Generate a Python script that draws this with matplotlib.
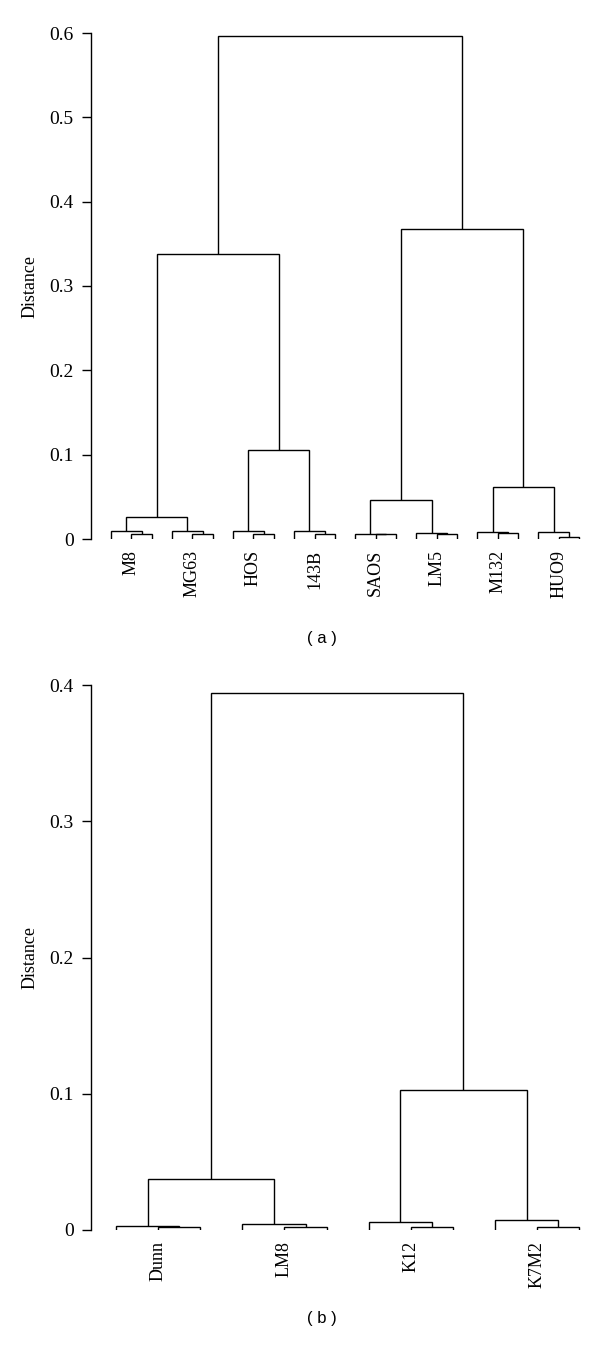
import matplotlib
matplotlib.use("Agg")
import matplotlib.pyplot as plt

plt.rcParams['font.family'] = ['Liberation Serif', 'DejaVu Serif']

# ---------------- data: panel (a) ----------------
# each labelled group holds 3 leaves: A + (B, C)
groups_a = ["M8", "MG63", "HOS", "143B", "SAOS", "LM5", "M132", "HUO9"]
inner_a = [0.0056, 0.0058, 0.0056, 0.0060, 0.0054, 0.0056, 0.0068, 0.0027]
outer_a = [0.0091, 0.0091, 0.0091, 0.0091, 0.0056, 0.0068, 0.0079, 0.0079]
# merges above the groups: node ids 0..7 are groups, new nodes count on from 8
upper_pairs_a = [(0, 1), (2, 3), (4, 5), (6, 7), (8, 9), (10, 11), (12, 13)]
upper_heights_a = [0.0265, 0.106, 0.046, 0.062, 0.338, 0.367, 0.596]
yticks_a = [0, 0.1, 0.2, 0.3, 0.4, 0.5, 0.6]

# ---------------- data: panel (b) ----------------
groups_b = ["Dunn", "LM8", "K12", "K7M2"]
inner_b = [0.0024, 0.0020, 0.0024, 0.0024]
outer_b = [0.0032, 0.0044, 0.0057, 0.0073]
upper_pairs_b = [(0, 1), (2, 3), (4, 5)]
upper_heights_b = [0.0374, 0.1028, 0.394]
yticks_b = [0, 0.1, 0.2, 0.3, 0.4]


def link(ax, x1, h1, x2, h2, top):
    ax.plot([x1, x1, x2, x2], [h1, top, top, h2], color="black", lw=1.0,
            solid_joinstyle="miter", solid_capstyle="butt")


def draw_dendrogram(ax, groups, inner, outer, pairs, heights):
    nodes = []  # (x centre, height) per node
    for g in range(len(groups)):
        a, b, c = 3 * g, 3 * g + 1, 3 * g + 2
        link(ax, b, 0, c, 0, inner[g])
        bc = (b + c) / 2
        link(ax, a, 0, bc, inner[g], outer[g])
        nodes.append(((a + bc) / 2, outer[g]))
    for (i, j), h in zip(pairs, heights):
        xi, hi = nodes[i]
        xj, hj = nodes[j]
        link(ax, xi, hi, xj, hj, h)
        nodes.append(((xi + xj) / 2, h))
    ax.set_xticks([3 * g + 1 for g in range(len(groups))])
    ax.set_xticklabels(groups, rotation=90, fontsize=13)


def style(ax, yticks, ymax):
    for s in ["top", "right", "bottom"]:
        ax.spines[s].set_visible(False)
    ax.spines["left"].set_bounds(0, ymax)
    ax.spines["left"].set_linewidth(1.0)
    ax.set_ylim(0, ymax)
    ax.set_yticks(yticks)
    ax.set_yticklabels([("%g" % t) for t in yticks], fontsize=14)
    ax.tick_params(axis="y", direction="out", length=6.5, width=1.0, pad=6)
    ax.tick_params(axis="x", length=0, pad=8)
    ax.set_ylabel("Distance", fontsize=13, labelpad=8)


fig = plt.figure(figsize=(6.0, 13.47), dpi=100)
H = 1347.0

# panel (a): spine at x=91px, leaf0 at 111px, spacing 20.35px
ax1 = fig.add_axes([91 / 600, (H - 539) / H, 499 / 600, 506 / H])
draw_dendrogram(ax1, groups_a, inner_a, outer_a, upper_pairs_a, upper_heights_a)
ax1.set_xlim(-20 / 20.35, 479 / 20.35)
style(ax1, yticks_a, 0.6)

# panel (b): spine at x=91px, leaf0 at 116px, spacing 42.12px
ax2 = fig.add_axes([91 / 600, (H - 1230) / H, 499 / 600, 545 / H])
draw_dendrogram(ax2, groups_b, inner_b, outer_b, upper_pairs_b, upper_heights_b)
ax2.set_xlim(-25 / 42.12, 474 / 42.12)
style(ax2, yticks_b, 0.4)

fig.text(322 / 600, 1 - 639 / H, "( a )", ha="center", va="center",
         fontsize=12, family=["Liberation Sans", "DejaVu Sans"])
fig.text(322 / 600, 1 - 1318 / H, "( b )", ha="center", va="center",
         fontsize=12, family=["Liberation Sans", "DejaVu Sans"])

fig.savefig("out.png", dpi=100, facecolor="white")
